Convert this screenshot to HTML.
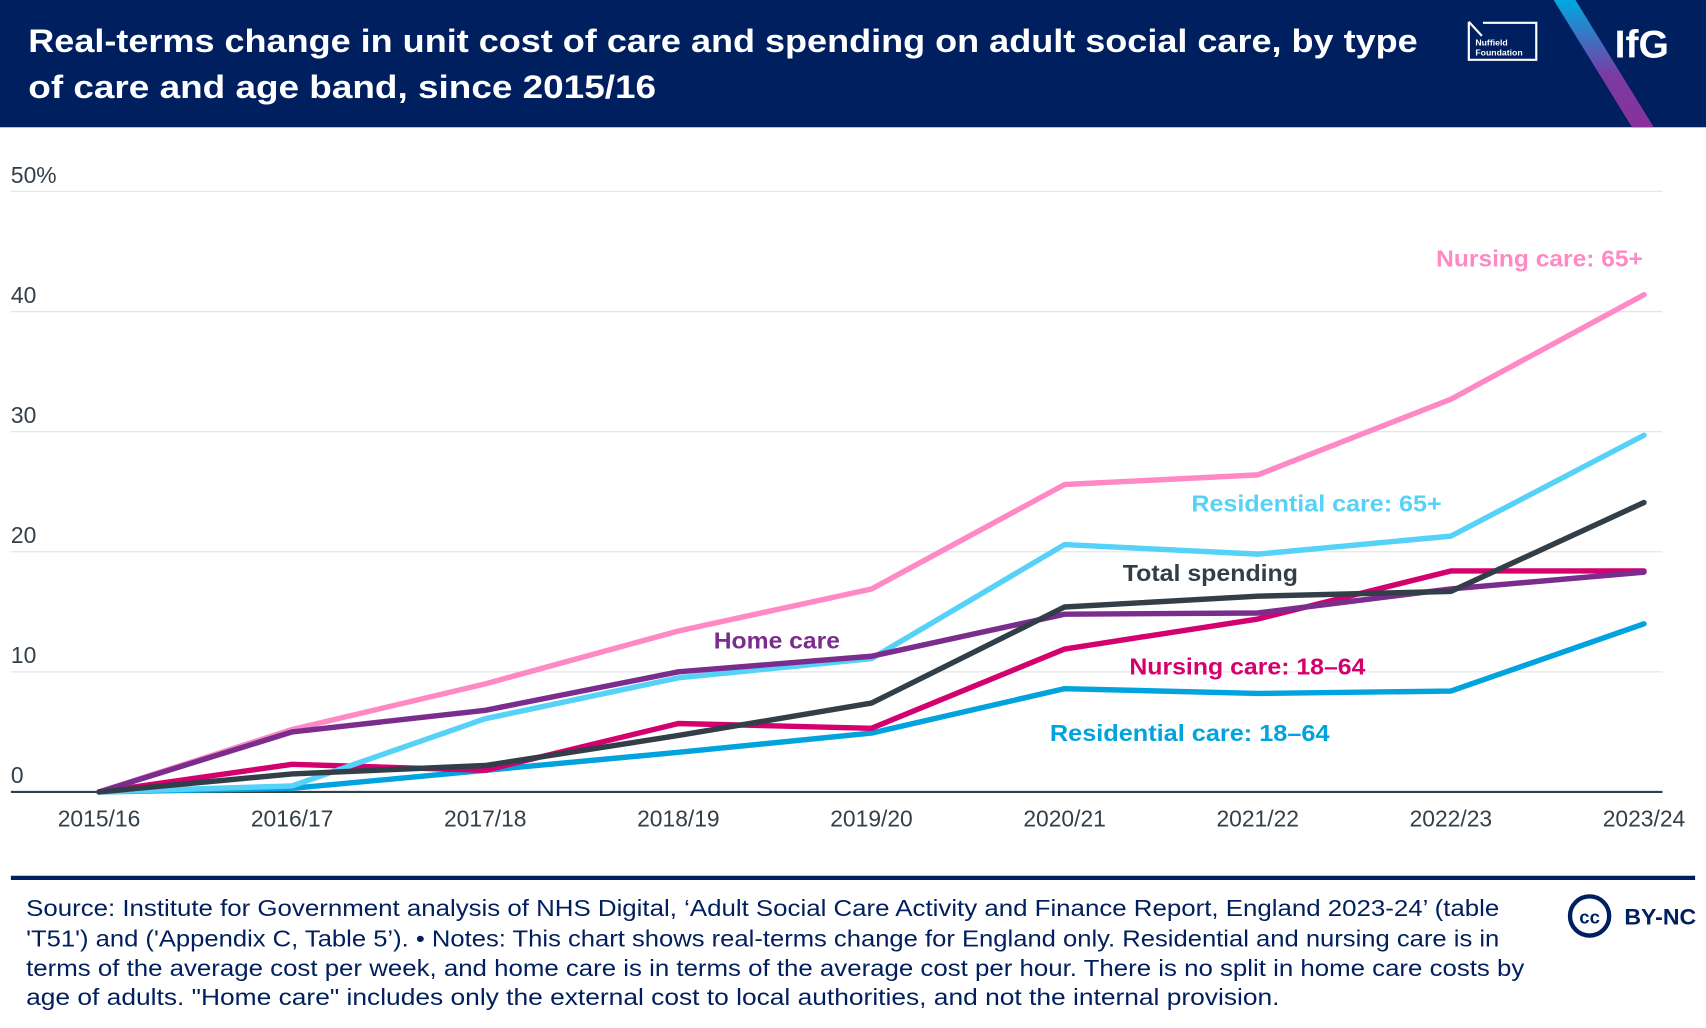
<!DOCTYPE html>
<html><head><meta charset="utf-8"><style>
html,body{margin:0;padding:0;background:#fff;}
svg{display:block;font-family:"Liberation Sans",sans-serif;}
</style></head><body>
<svg id="chart" width="1706" height="1028" viewBox="0 0 1568 945" preserveAspectRatio="none" xmlns="http://www.w3.org/2000/svg">
<defs><linearGradient id="stripe" x1="0" y1="0" x2="0" y2="1"><stop offset="0" stop-color="#00a9e0"/><stop offset="0.6" stop-color="#7b3aa3"/><stop offset="1" stop-color="#87329a"/></linearGradient></defs>
<rect x="0" y="0" width="1568" height="117" fill="#001f5f"/>
<text x="26" y="48" fill="#fff" font-weight="bold" font-size="30" textLength="1277" lengthAdjust="spacingAndGlyphs">Real-terms change in unit cost of care and spending on adult social care, by type</text>
<text x="26" y="90" fill="#fff" font-weight="bold" font-size="30" textLength="577" lengthAdjust="spacingAndGlyphs">of care and age band, since 2015/16</text>
<g>
<path d="M1350,20 L1350,55 L1412,55 L1412,21 L1363,21 M1350,20 L1362,33" fill="none" stroke="#fff" stroke-width="2"/>
<text x="1356" y="42" fill="#fff" font-size="8" font-weight="bold">Nuffield</text>
<text x="1356" y="51" fill="#fff" font-size="8" font-weight="bold">Foundation</text>
</g>
<polygon points="1428,0 1448,0 1520,117 1500,117" fill="url(#stripe)"/>
<text x="1484" y="53" fill="#fff" font-size="36" font-weight="bold">IfG</text>
<g id="grid"></g>
<g id="lines"></g>
<g id="labels"></g>
<line x1="10" y1="807" x2="1558" y2="807" stroke="#001f5f" stroke-width="4"/>
<g fill="#001f5f" font-size="21">
<text x="24" y="842" textLength="1354" lengthAdjust="spacingAndGlyphs">Source: Institute for Government analysis of NHS Digital, ‘Adult Social Care Activity and Finance Report, England 2023-24’ (table</text>
<text x="24" y="870" textLength="1354" lengthAdjust="spacingAndGlyphs">'T51') and ('Appendix C, Table 5’). • Notes: This chart shows real-terms change for England only. Residential and nursing care is in</text>
<text x="24" y="897" textLength="1377" lengthAdjust="spacingAndGlyphs">terms of the average cost per week, and home care is in terms of the average cost per hour. There is no split in home care costs by</text>
<text x="24" y="924" textLength="1152" lengthAdjust="spacingAndGlyphs">age of adults. "Home care" includes only the external cost to local authorities, and not the internal provision.</text>
</g>
<g>
<circle cx="1461" cy="842" r="18" fill="none" stroke="#001f5f" stroke-width="4"/>
<text x="1461" y="849" text-anchor="middle" fill="#001f5f" font-size="17" font-weight="bold">cc</text>
<text x="1493" y="850" fill="#001f5f" font-size="20" font-weight="bold" textLength="66" lengthAdjust="spacingAndGlyphs">BY-NC</text>
</g>
</svg>
<script>
const categories=["2015/16","2016/17","2017/18","2018/19","2019/20","2020/21","2021/22","2022/23","2023/24"];
const yTicks=[0,10,20,30,40,50];
const nursing65=[0,5.2,9.0,13.4,16.9,25.6,26.4,32.7,41.4];
const residential65=[0,0.5,6.1,9.5,11.1,20.6,19.8,21.3,29.7];
const totalSpending=[0,1.5,2.2,4.7,7.4,15.4,16.3,16.7,24.1];
const homeCare=[0,5.0,6.8,10.0,11.3,14.8,14.9,16.9,18.3];
const nursing1864=[0,2.3,1.8,5.7,5.3,11.9,14.4,18.4,18.4];
const residential1864=[0,0.3,1.8,3.3,4.9,8.6,8.2,8.4,14.0];
const NS="http://www.w3.org/2000/svg";
const x=i=>91+i*(1511-91)/(categories.length-1);
const y=v=>728-v*(728-176)/50;
function mk(tag,attrs,parent){const e=document.createElementNS(NS,tag);for(const k in attrs)e.setAttribute(k,attrs[k]);parent.appendChild(e);return e;}
const grid=document.getElementById('grid');
yTicks.forEach(t=>{
  if(t>0){const g=mk('line',{x1:10,x2:1528,y1:y(t),y2:y(t),stroke:'#e6e6e6','stroke-width':1.2},grid);
  
  }
  const l=mk('text',{x:10,y:y(t)-8,fill:'#333f48','font-size':21},grid);
  l.textContent=t===50?'50%':String(t);
  
  
});
const ax=mk('line',{x1:10,x2:1528,y1:728,y2:728,stroke:'#333f48','stroke-width':2},grid);


categories.forEach((c,i)=>{
  const t=mk('text',{x:x(i),y:760,'text-anchor':'middle',fill:'#333f48','font-size':21},grid);
  t.textContent=c;
  
  
});
const series=[
 ['residential-18-64-line',residential1864,'#00a3dd'],
 ['nursing-18-64-line',nursing1864,'#d4006d'],
 ['residential-65-line',residential65,'#56d1f7'],
 ['nursing-65-line',nursing65,'#ff89c4'],
 ['home-care-line',homeCare,'#7b2d8e'],
 ['total-spending-line',totalSpending,'#333f48']];
const lines=document.getElementById('lines');
series.forEach(([n,d,c])=>{
  const p=mk('polyline',{points:d.map((v,i)=>x(i)+','+y(v)).join(' '),fill:'none',stroke:c,'stroke-width':5,'stroke-linejoin':'round','stroke-linecap':'round'},lines);
  
  
});
const labs=[
 ['label-nursing-65','Nursing care: 65+',1320,245,'#ff89c4',190],
 ['label-residential-65','Residential care: 65+',1095,470,'#56d1f7',230],
 ['label-total-spending','Total spending',1032,534,'#333f48',161],
 ['label-home-care','Home care',656,596,'#7b2d8e',116],
 ['label-nursing-18-64','Nursing care: 18–64',1038,620,'#d4006d',217],
 ['label-residential-18-64','Residential care: 18–64',965,681,'#00a3dd',257]];
const lg=document.getElementById('labels');
labs.forEach(([n,s,lx,ly,c,w])=>{
  const t=mk('text',{x:lx,y:ly,fill:c,'font-size':21,'font-weight':'bold',textLength:w,lengthAdjust:'spacingAndGlyphs'},lg);
  t.textContent=s;
  
  
});
</script>
</body></html>
